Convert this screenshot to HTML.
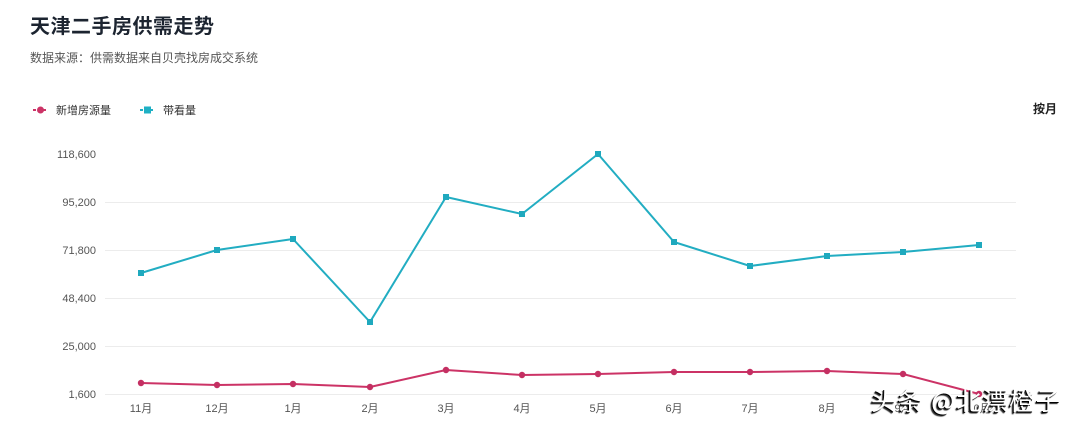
<!DOCTYPE html>
<html><head><meta charset="utf-8"><style>
html,body{margin:0;padding:0;background:#fff;}
body{width:1080px;height:435px;overflow:hidden;position:relative;font-family:"Liberation Sans","Noto Sans CJK SC",sans-serif;}
.t{position:absolute;left:30px;top:10px;font-size:20px;font-weight:bold;color:#1c2430;letter-spacing:0.5px;}
.s{position:absolute;left:30px;top:49px;font-size:12px;color:#555;}
.wm{position:absolute;left:871px;top:385px;font-size:25px;color:#fff;font-family:"Noto Sans CJK SC",sans-serif;text-shadow:-1px 1px 0 #000,-2px 2px 1px #222;letter-spacing:1.5px;white-space:nowrap;line-height:1.2;}
</style></head><body>
<div class="t">天津二手房供需走势</div>
<div class="s">数据来源：供需数据来自贝壳找房成交系统</div>
<svg width="1080" height="435" style="position:absolute;left:0;top:0" font-family="Liberation Sans, Noto Sans CJK SC, sans-serif">
<g stroke="#ececec" stroke-width="1">
<line x1="105" y1="202.5" x2="1016" y2="202.5"/>
<line x1="105" y1="250.5" x2="1016" y2="250.5"/>
<line x1="105" y1="298.5" x2="1016" y2="298.5"/>
<line x1="105" y1="346.5" x2="1016" y2="346.5"/>
<line x1="105" y1="394.5" x2="1016" y2="394.5"/>
</g>
<g font-size="11" fill="#555" text-anchor="end">
<text x="96" y="158">118,600</text>
<text x="96" y="206">95,200</text>
<text x="96" y="254">71,800</text>
<text x="96" y="302">48,400</text>
<text x="96" y="350">25,000</text>
<text x="96" y="398">1,600</text>
</g>
<g font-size="11" fill="#555" text-anchor="middle">
<text x="141" y="412">11月</text><text x="217" y="412">12月</text><text x="293" y="412">1月</text><text x="370" y="412">2月</text><text x="446" y="412">3月</text><text x="522" y="412">4月</text><text x="598" y="412">5月</text><text x="674" y="412">6月</text><text x="750" y="412">7月</text><text x="827" y="412">8月</text><text x="903" y="412">9月</text><text x="979" y="412">10月</text>
</g>
<!-- legend -->
<line x1="33" y1="110" x2="48" y2="110" stroke="#cc3366" stroke-width="2" stroke-dasharray="3,2"/>
<circle cx="40.5" cy="110" r="3.5" fill="#cc3366"/>
<text x="56" y="114" font-size="11" fill="#333">新增房源量</text>
<line x1="140" y1="110" x2="155" y2="110" stroke="#1fb0c4" stroke-width="2" stroke-dasharray="3,2"/>
<rect x="144" y="106.5" width="7" height="7" fill="#1fb0c4"/>
<text x="163" y="114" font-size="11" fill="#333">带看量</text>
<text x="1033" y="113" font-size="12" font-weight="bold" fill="#222">按月</text>
<!-- teal series -->
<polyline fill="none" stroke="#22adc2" stroke-width="2" stroke-linejoin="round" points="141,273 217,250 293,239 370,322 446,197 522,214 598,154 674,242 750,266 827,256 903,252 979,245"/>
<g fill="#1fa9be">
<rect x="138" y="270" width="6" height="6"/><rect x="214" y="247" width="6" height="6"/><rect x="290" y="236" width="6" height="6"/><rect x="367" y="319" width="6" height="6"/><rect x="443" y="194" width="6" height="6"/><rect x="519" y="211" width="6" height="6"/><rect x="595" y="151" width="6" height="6"/><rect x="671" y="239" width="6" height="6"/><rect x="747" y="263" width="6" height="6"/><rect x="824" y="253" width="6" height="6"/><rect x="900" y="249" width="6" height="6"/><rect x="976" y="242" width="6" height="6"/>
</g>
<!-- pink series -->
<polyline fill="none" stroke="#cc3366" stroke-width="2" stroke-linejoin="round" points="141,383 217,385 293,384 370,387 446,370 522,375 598,374 674,372 750,372 827,371 903,374 979,394"/>
<g fill="#c42f62">
<circle cx="141" cy="383" r="3.2"/><circle cx="217" cy="385" r="3.2"/><circle cx="293" cy="384" r="3.2"/><circle cx="370" cy="387" r="3.2"/><circle cx="446" cy="370" r="3.2"/><circle cx="522" cy="375" r="3.2"/><circle cx="598" cy="374" r="3.2"/><circle cx="674" cy="372" r="3.2"/><circle cx="750" cy="372" r="3.2"/><circle cx="827" cy="371" r="3.2"/><circle cx="903" cy="374" r="3.2"/><circle cx="979" cy="394" r="3.2"/>
</g>
</svg>
<div class="wm">头条 @北漂橙子</div>
</body></html>
